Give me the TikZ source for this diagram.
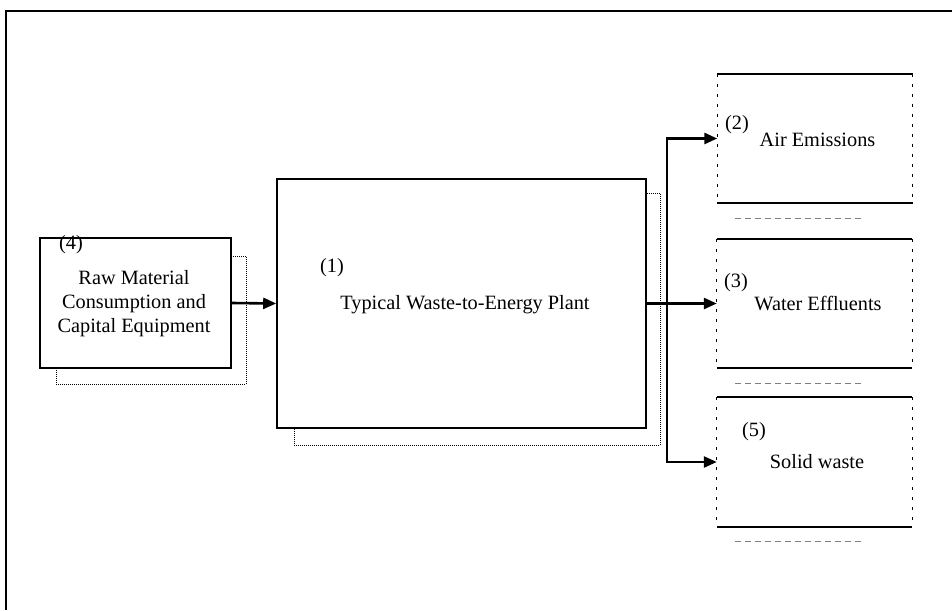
\documentclass[tikz,border=0pt]{standalone}
\usepackage{fontspec}
\setmainfont{Liberation Serif}
\usetikzlibrary{arrows.meta}
\begin{document}
\begin{tikzpicture}[x=1pt,y=-1pt,
  txt/.style={inner sep=0pt,font=\fontsize{20.3}{24}\selectfont},
  mainbox/.style={draw,line width=1.6pt,fill=white,inner sep=0pt},
  shadowbox/.style={draw,line width=1pt,densely dotted,inner sep=0pt},
  outbox/.style={draw=none,inner sep=0pt,minimum width=195pt,minimum height=129pt},
  sideline/.style={line width=0.9pt,dash pattern=on 3pt off 7pt},
  edgeline/.style={line width=1.8pt},
  faint/.style={line width=0.6pt,gray,dash pattern=on 6pt off 4pt},
  flow/.style={line width=2.6pt,-{Triangle[length=13pt,width=11pt]}}]
\useasboundingbox (0,0) rectangle (952,610);
% outer frame (only left and top edges visible)
\draw[line width=2pt] (6,610) -- (6,11) -- (952,11);

% box (4)
\node[shadowbox,minimum width=190pt,minimum height=128pt] (s4) at (151,320) {};
\node[mainbox,minimum width=191pt,minimum height=130pt] (b4) at (135.5,303) {};
\node[txt,anchor=west] (l4) at (59,245) {(4)};
\node[txt,align=center] (t4) at (134,304) {Raw Material\\Consumption and\\Capital Equipment};

% box (1)
\node[shadowbox,minimum width=366pt,minimum height=252pt] (s1) at (477,319) {};
\node[mainbox,minimum width=369pt,minimum height=249pt] (b1) at (461.5,303.5) {};
\node[txt,anchor=west] (l1) at (320,268) {(1)};
\node[txt] (t1) at (465,305) {Typical Waste-to-Energy Plant};

% output boxes
\node[outbox] (air) at (815,138.5) {};
\node[outbox] (wat) at (814.5,303.5) {};
\node[outbox] (sol) at (814.5,462) {};
\foreach \b in {air,wat,sol}{
  \draw[edgeline] (\b.north west) -- (\b.north east);
  \draw[edgeline] (\b.south west) -- (\b.south east);
  \draw[sideline] (\b.north west) -- (\b.south west);
  \draw[sideline] (\b.north east) -- (\b.south east);
  \draw[faint] ([shift={(18,15)}]\b.south west) -- ([shift={(-50,15)}]\b.south east);
}
\node[txt,anchor=west] (l2) at (725,125) {(2)};
\node[txt] (t2) at (817.5,140) {Air Emissions};
\node[txt,anchor=west] (l3) at (724,283) {(3)};
\node[txt] (t3) at (818,304) {Water Effluents};
\node[txt,anchor=west] (l5) at (742,432) {(5)};
\node[txt] (t5) at (817,462) {Solid waste};

% connectors
\coordinate (bus) at (667,303.5);
\draw[flow] (b4.east) -- (b1.west);
\draw[flow] (b1.east) -- (wat.west);
\draw[flow] (bus) |- (air.west);
\draw[flow] (bus) |- (sol.west);
\end{tikzpicture}
\end{document}
